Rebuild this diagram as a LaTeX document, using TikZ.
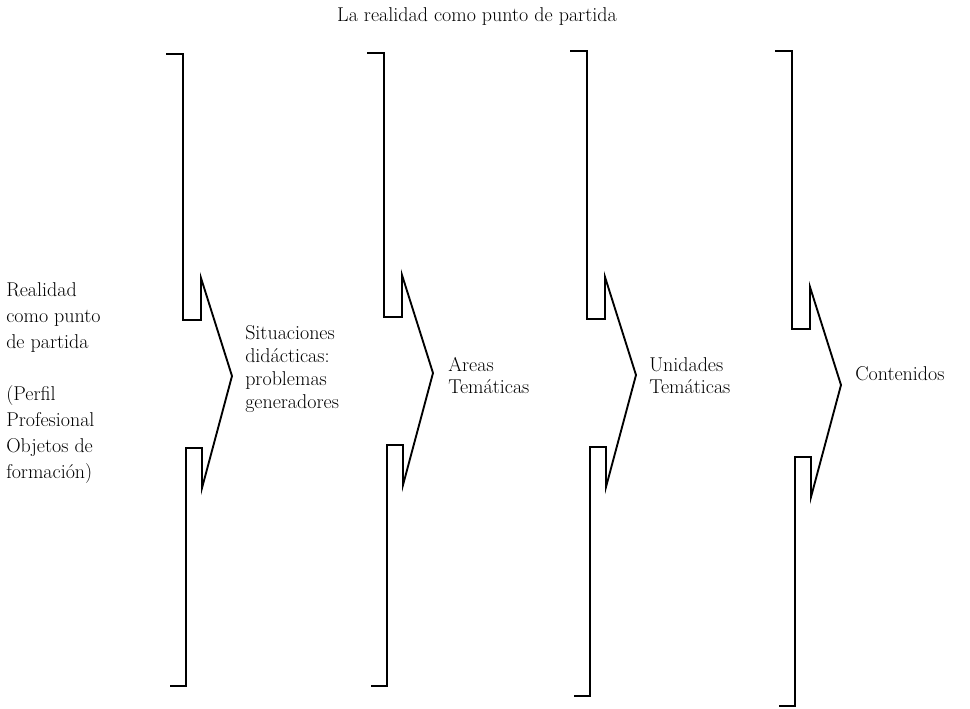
\documentclass[tikz,border=0pt]{standalone}
\usepackage{tikz}
\usetikzlibrary{positioning}

\begin{document}
\begin{tikzpicture}
		[x=0.75pt,y=-0.75pt,every node/.style={inner sep=0pt,align=left,font=\fontsize{15}{17.25}\selectfont}]
		\useasboundingbox (0,0) rectangle (970,709);
		\node (title) at (477,22) [anchor=base] {La realidad como punto de partida};
		\node (start) at (6,478) [anchor=base west,font=\fontsize{15}{19.5}\selectfont]
			{Realidad\\como punto\\de partida\\[19.5pt](Perfil\\Profesional\\Objetos de\\formación)};
		\node (sit) at (245,408) [anchor=base west] {Situaciones\\didácticas:\\problemas\\generadores};
		\node (areas) at (448,393) [anchor=base west,font=\fontsize{15}{16.25}\selectfont] {Areas\\Temáticas};
		\node (units) at (649,393) [anchor=base west,font=\fontsize{15}{16.25}\selectfont] {Unidades\\Temáticas};
		\node (cont) at (855,380) [anchor=base west] {Contenidos};
		
		\foreach \sx/\ty/\dy/\by in 
		{183/54/0/686, 384/53/-3/686, 587/51/-1/696, 792/51/9/706}
		\draw[line width=1.4pt] (\sx-17,\ty) -- (\sx,\ty) -- (\sx,320+\dy) -- (\sx+18,320+\dy) -- (\sx+18,278+\dy)
			-- (\sx+49,376+\dy) -- (\sx+19,488+\dy) -- (\sx+19,448+\dy) -- (\sx+3,448+\dy) -- (\sx+3,\by) -- (\sx-13,\by);
		\end{tikzpicture}
\end{document}
